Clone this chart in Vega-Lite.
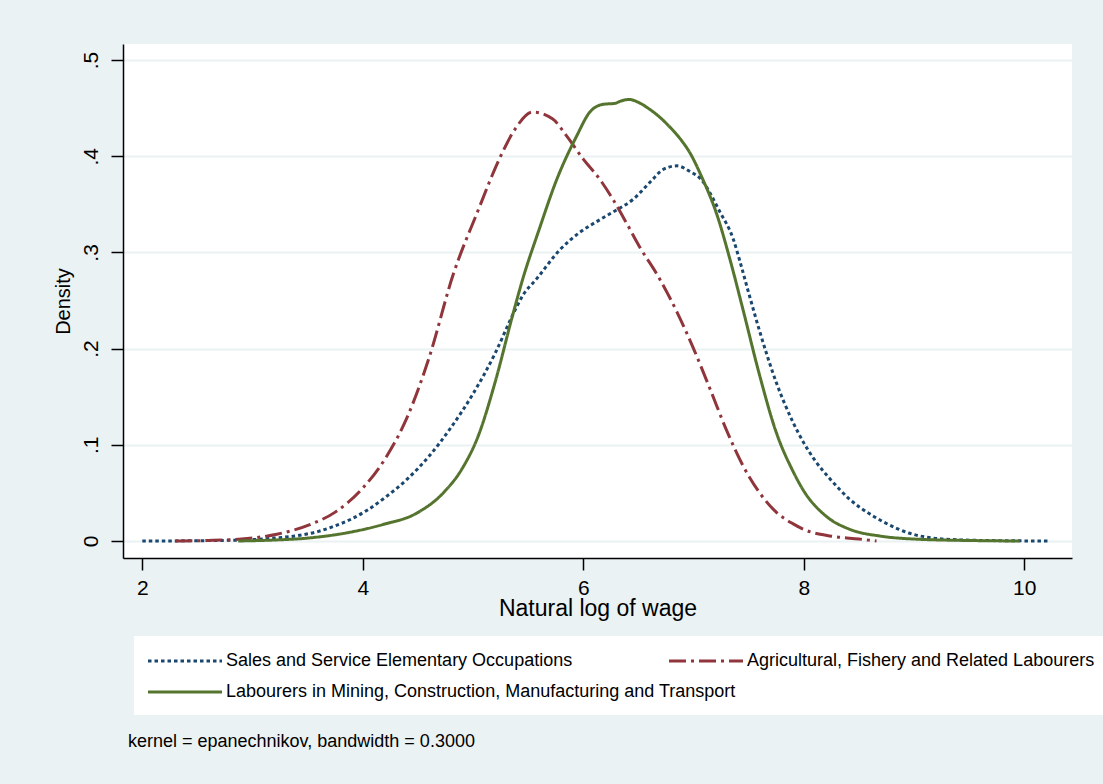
{
  "$schema": "https://vega.github.io/schema/vega-lite/v6.json",
  "width": 949,
  "height": 514,
  "autosize": {"type": "none"},
  "padding": {"left": 123, "top": 44, "right": 31, "bottom": 226},
  "background": "#EAF2F3",
  "title": {
    "text": "kernel = epanechnikov, bandwidth = 0.3000",
    "orient": "bottom",
    "anchor": "start",
    "frame": "group",
    "dx": 5,
    "offset": 18,
    "font": "Liberation Sans",
    "fontSize": 18,
    "fontWeight": "normal",
    "color": "#000000"
  },
  "config": {
    "view": {"fill": "#FFFFFF", "stroke": null},
    "font": "Liberation Sans"
  },
  "data": {
    "values": [
      {"occupation": "Sales and Service Elementary Occupations", "logwage": 2.0, "density": 0},
      {"occupation": "Sales and Service Elementary Occupations", "logwage": 2.3, "density": 0.0001},
      {"occupation": "Sales and Service Elementary Occupations", "logwage": 2.6, "density": 0.0004},
      {"occupation": "Sales and Service Elementary Occupations", "logwage": 2.9, "density": 0.001},
      {"occupation": "Sales and Service Elementary Occupations", "logwage": 3.2, "density": 0.003},
      {"occupation": "Sales and Service Elementary Occupations", "logwage": 3.43, "density": 0.006},
      {"occupation": "Sales and Service Elementary Occupations", "logwage": 3.6, "density": 0.01},
      {"occupation": "Sales and Service Elementary Occupations", "logwage": 3.73, "density": 0.015},
      {"occupation": "Sales and Service Elementary Occupations", "logwage": 3.9, "density": 0.023},
      {"occupation": "Sales and Service Elementary Occupations", "logwage": 4.04, "density": 0.032},
      {"occupation": "Sales and Service Elementary Occupations", "logwage": 4.2, "density": 0.045},
      {"occupation": "Sales and Service Elementary Occupations", "logwage": 4.4, "density": 0.064},
      {"occupation": "Sales and Service Elementary Occupations", "logwage": 4.6, "density": 0.088},
      {"occupation": "Sales and Service Elementary Occupations", "logwage": 4.8, "density": 0.118},
      {"occupation": "Sales and Service Elementary Occupations", "logwage": 5.0, "density": 0.153},
      {"occupation": "Sales and Service Elementary Occupations", "logwage": 5.2, "density": 0.195},
      {"occupation": "Sales and Service Elementary Occupations", "logwage": 5.36, "density": 0.235},
      {"occupation": "Sales and Service Elementary Occupations", "logwage": 5.45, "density": 0.255},
      {"occupation": "Sales and Service Elementary Occupations", "logwage": 5.58, "density": 0.273},
      {"occupation": "Sales and Service Elementary Occupations", "logwage": 5.79, "density": 0.303},
      {"occupation": "Sales and Service Elementary Occupations", "logwage": 5.97, "density": 0.321},
      {"occupation": "Sales and Service Elementary Occupations", "logwage": 6.15, "density": 0.334},
      {"occupation": "Sales and Service Elementary Occupations", "logwage": 6.27, "density": 0.342},
      {"occupation": "Sales and Service Elementary Occupations", "logwage": 6.45, "density": 0.355},
      {"occupation": "Sales and Service Elementary Occupations", "logwage": 6.63, "density": 0.376},
      {"occupation": "Sales and Service Elementary Occupations", "logwage": 6.72, "density": 0.386},
      {"occupation": "Sales and Service Elementary Occupations", "logwage": 6.85, "density": 0.39},
      {"occupation": "Sales and Service Elementary Occupations", "logwage": 6.97, "density": 0.384},
      {"occupation": "Sales and Service Elementary Occupations", "logwage": 7.06, "density": 0.377},
      {"occupation": "Sales and Service Elementary Occupations", "logwage": 7.24, "density": 0.342},
      {"occupation": "Sales and Service Elementary Occupations", "logwage": 7.36, "density": 0.314},
      {"occupation": "Sales and Service Elementary Occupations", "logwage": 7.43, "density": 0.287},
      {"occupation": "Sales and Service Elementary Occupations", "logwage": 7.5, "density": 0.258},
      {"occupation": "Sales and Service Elementary Occupations", "logwage": 7.6, "density": 0.218},
      {"occupation": "Sales and Service Elementary Occupations", "logwage": 7.75, "density": 0.165},
      {"occupation": "Sales and Service Elementary Occupations", "logwage": 7.9, "density": 0.124},
      {"occupation": "Sales and Service Elementary Occupations", "logwage": 8.0, "density": 0.102},
      {"occupation": "Sales and Service Elementary Occupations", "logwage": 8.1, "density": 0.084},
      {"occupation": "Sales and Service Elementary Occupations", "logwage": 8.25, "density": 0.063},
      {"occupation": "Sales and Service Elementary Occupations", "logwage": 8.42, "density": 0.043},
      {"occupation": "Sales and Service Elementary Occupations", "logwage": 8.6, "density": 0.028},
      {"occupation": "Sales and Service Elementary Occupations", "logwage": 8.72, "density": 0.02},
      {"occupation": "Sales and Service Elementary Occupations", "logwage": 8.96, "density": 0.008},
      {"occupation": "Sales and Service Elementary Occupations", "logwage": 9.17, "density": 0.003},
      {"occupation": "Sales and Service Elementary Occupations", "logwage": 9.4, "density": 0.0012},
      {"occupation": "Sales and Service Elementary Occupations", "logwage": 9.7, "density": 0.0004},
      {"occupation": "Sales and Service Elementary Occupations", "logwage": 10.0, "density": 0.0001},
      {"occupation": "Sales and Service Elementary Occupations", "logwage": 10.23, "density": 0},

      {"occupation": "Agricultural, Fishery and Related Labourers", "logwage": 2.3, "density": 0},
      {"occupation": "Agricultural, Fishery and Related Labourers", "logwage": 2.6, "density": 0.0005},
      {"occupation": "Agricultural, Fishery and Related Labourers", "logwage": 2.9, "density": 0.002},
      {"occupation": "Agricultural, Fishery and Related Labourers", "logwage": 3.22, "density": 0.007},
      {"occupation": "Agricultural, Fishery and Related Labourers", "logwage": 3.52, "density": 0.017},
      {"occupation": "Agricultural, Fishery and Related Labourers", "logwage": 3.75, "density": 0.03},
      {"occupation": "Agricultural, Fishery and Related Labourers", "logwage": 4.0, "density": 0.055},
      {"occupation": "Agricultural, Fishery and Related Labourers", "logwage": 4.2, "density": 0.085},
      {"occupation": "Agricultural, Fishery and Related Labourers", "logwage": 4.4, "density": 0.128},
      {"occupation": "Agricultural, Fishery and Related Labourers", "logwage": 4.6, "density": 0.19},
      {"occupation": "Agricultural, Fishery and Related Labourers", "logwage": 4.82, "density": 0.277},
      {"occupation": "Agricultural, Fishery and Related Labourers", "logwage": 5.04, "density": 0.342},
      {"occupation": "Agricultural, Fishery and Related Labourers", "logwage": 5.25, "density": 0.4},
      {"occupation": "Agricultural, Fishery and Related Labourers", "logwage": 5.38, "density": 0.428},
      {"occupation": "Agricultural, Fishery and Related Labourers", "logwage": 5.54, "density": 0.446},
      {"occupation": "Agricultural, Fishery and Related Labourers", "logwage": 5.72, "density": 0.439},
      {"occupation": "Agricultural, Fishery and Related Labourers", "logwage": 5.85, "density": 0.421},
      {"occupation": "Agricultural, Fishery and Related Labourers", "logwage": 6.0, "density": 0.397},
      {"occupation": "Agricultural, Fishery and Related Labourers", "logwage": 6.15, "density": 0.376},
      {"occupation": "Agricultural, Fishery and Related Labourers", "logwage": 6.27, "density": 0.355},
      {"occupation": "Agricultural, Fishery and Related Labourers", "logwage": 6.39, "density": 0.331},
      {"occupation": "Agricultural, Fishery and Related Labourers", "logwage": 6.51, "density": 0.306},
      {"occupation": "Agricultural, Fishery and Related Labourers", "logwage": 6.68, "density": 0.275},
      {"occupation": "Agricultural, Fishery and Related Labourers", "logwage": 6.85, "density": 0.238},
      {"occupation": "Agricultural, Fishery and Related Labourers", "logwage": 7.0, "density": 0.2},
      {"occupation": "Agricultural, Fishery and Related Labourers", "logwage": 7.15, "density": 0.158},
      {"occupation": "Agricultural, Fishery and Related Labourers", "logwage": 7.3, "density": 0.115},
      {"occupation": "Agricultural, Fishery and Related Labourers", "logwage": 7.45, "density": 0.078},
      {"occupation": "Agricultural, Fishery and Related Labourers", "logwage": 7.6, "density": 0.05},
      {"occupation": "Agricultural, Fishery and Related Labourers", "logwage": 7.75, "density": 0.03},
      {"occupation": "Agricultural, Fishery and Related Labourers", "logwage": 7.9, "density": 0.018},
      {"occupation": "Agricultural, Fishery and Related Labourers", "logwage": 8.0, "density": 0.012},
      {"occupation": "Agricultural, Fishery and Related Labourers", "logwage": 8.25, "density": 0.005},
      {"occupation": "Agricultural, Fishery and Related Labourers", "logwage": 8.5, "density": 0.002},
      {"occupation": "Agricultural, Fishery and Related Labourers", "logwage": 8.66, "density": 0},

      {"occupation": "Labourers in Mining, Construction, Manufacturing and Transport", "logwage": 2.87, "density": 0},
      {"occupation": "Labourers in Mining, Construction, Manufacturing and Transport", "logwage": 3.2, "density": 0.001},
      {"occupation": "Labourers in Mining, Construction, Manufacturing and Transport", "logwage": 3.5, "density": 0.003},
      {"occupation": "Labourers in Mining, Construction, Manufacturing and Transport", "logwage": 3.88, "density": 0.009},
      {"occupation": "Labourers in Mining, Construction, Manufacturing and Transport", "logwage": 4.18, "density": 0.017},
      {"occupation": "Labourers in Mining, Construction, Manufacturing and Transport", "logwage": 4.49, "density": 0.029},
      {"occupation": "Labourers in Mining, Construction, Manufacturing and Transport", "logwage": 4.73, "density": 0.05},
      {"occupation": "Labourers in Mining, Construction, Manufacturing and Transport", "logwage": 4.9, "density": 0.075},
      {"occupation": "Labourers in Mining, Construction, Manufacturing and Transport", "logwage": 5.05, "density": 0.11},
      {"occupation": "Labourers in Mining, Construction, Manufacturing and Transport", "logwage": 5.2, "density": 0.165},
      {"occupation": "Labourers in Mining, Construction, Manufacturing and Transport", "logwage": 5.36, "density": 0.235},
      {"occupation": "Labourers in Mining, Construction, Manufacturing and Transport", "logwage": 5.45, "density": 0.272},
      {"occupation": "Labourers in Mining, Construction, Manufacturing and Transport", "logwage": 5.6, "density": 0.324},
      {"occupation": "Labourers in Mining, Construction, Manufacturing and Transport", "logwage": 5.76, "density": 0.376},
      {"occupation": "Labourers in Mining, Construction, Manufacturing and Transport", "logwage": 5.94, "density": 0.421},
      {"occupation": "Labourers in Mining, Construction, Manufacturing and Transport", "logwage": 6.06, "density": 0.446},
      {"occupation": "Labourers in Mining, Construction, Manufacturing and Transport", "logwage": 6.18, "density": 0.454},
      {"occupation": "Labourers in Mining, Construction, Manufacturing and Transport", "logwage": 6.29, "density": 0.455},
      {"occupation": "Labourers in Mining, Construction, Manufacturing and Transport", "logwage": 6.33, "density": 0.457},
      {"occupation": "Labourers in Mining, Construction, Manufacturing and Transport", "logwage": 6.42, "density": 0.459},
      {"occupation": "Labourers in Mining, Construction, Manufacturing and Transport", "logwage": 6.5, "density": 0.456},
      {"occupation": "Labourers in Mining, Construction, Manufacturing and Transport", "logwage": 6.6, "density": 0.449},
      {"occupation": "Labourers in Mining, Construction, Manufacturing and Transport", "logwage": 6.69, "density": 0.441},
      {"occupation": "Labourers in Mining, Construction, Manufacturing and Transport", "logwage": 6.78, "density": 0.431},
      {"occupation": "Labourers in Mining, Construction, Manufacturing and Transport", "logwage": 6.88, "density": 0.418},
      {"occupation": "Labourers in Mining, Construction, Manufacturing and Transport", "logwage": 6.97, "density": 0.403},
      {"occupation": "Labourers in Mining, Construction, Manufacturing and Transport", "logwage": 7.08, "density": 0.377},
      {"occupation": "Labourers in Mining, Construction, Manufacturing and Transport", "logwage": 7.21, "density": 0.34},
      {"occupation": "Labourers in Mining, Construction, Manufacturing and Transport", "logwage": 7.33, "density": 0.293},
      {"occupation": "Labourers in Mining, Construction, Manufacturing and Transport", "logwage": 7.45, "density": 0.24},
      {"occupation": "Labourers in Mining, Construction, Manufacturing and Transport", "logwage": 7.6, "density": 0.172},
      {"occupation": "Labourers in Mining, Construction, Manufacturing and Transport", "logwage": 7.75, "density": 0.113},
      {"occupation": "Labourers in Mining, Construction, Manufacturing and Transport", "logwage": 7.9, "density": 0.073},
      {"occupation": "Labourers in Mining, Construction, Manufacturing and Transport", "logwage": 8.0, "density": 0.052},
      {"occupation": "Labourers in Mining, Construction, Manufacturing and Transport", "logwage": 8.2, "density": 0.026},
      {"occupation": "Labourers in Mining, Construction, Manufacturing and Transport", "logwage": 8.42, "density": 0.012},
      {"occupation": "Labourers in Mining, Construction, Manufacturing and Transport", "logwage": 8.7, "density": 0.005},
      {"occupation": "Labourers in Mining, Construction, Manufacturing and Transport", "logwage": 9.0, "density": 0.002},
      {"occupation": "Labourers in Mining, Construction, Manufacturing and Transport", "logwage": 9.5, "density": 0.0005},
      {"occupation": "Labourers in Mining, Construction, Manufacturing and Transport", "logwage": 9.96, "density": 0}
    ]
  },
  "mark": {"type": "line", "strokeWidth": 3, "interpolate": "monotone"},
  "encoding": {
    "x": {
      "field": "logwage",
      "type": "quantitative",
      "scale": {"domain": [1.825, 10.433], "nice": false, "zero": false},
      "axis": {
        "title": "Natural log of wage",
        "values": [2, 4, 6, 8, 10],
        "grid": false,
        "domainColor": "#000000",
        "domainWidth": 1.5,
        "tickColor": "#000000",
        "tickWidth": 1.5,
        "tickSize": 12,
        "labelFontSize": 21,
        "labelColor": "#000000",
        "labelPadding": 7,
        "labelFont": "Liberation Sans",
        "titleFont": "Liberation Sans",
        "titleFontSize": 23,
        "titleFontWeight": "normal",
        "titleColor": "#000000",
        "titlePadding": -1
      }
    },
    "y": {
      "field": "density",
      "type": "quantitative",
      "scale": {"domain": [-0.0177, 0.5167], "nice": false, "zero": false},
      "axis": {
        "title": "Density",
        "values": [0, 0.1, 0.2, 0.3, 0.4, 0.5],
        "labelExpr": "datum.value === 0 ? '0' : '.' + round(datum.value * 10)",
        "grid": true,
        "gridColor": "#EAF2F3",
        "gridWidth": 2,
        "domainColor": "#000000",
        "domainWidth": 1.5,
        "tickColor": "#000000",
        "tickWidth": 1.5,
        "tickSize": 12,
        "labelFontSize": 21,
        "labelColor": "#000000",
        "labelAngle": -90,
        "labelAlign": "center",
        "labelBaseline": "bottom",
        "labelPadding": 10,
        "labelFont": "Liberation Sans",
        "titleFont": "Liberation Sans",
        "titleFontSize": 20,
        "titleFontWeight": "normal",
        "titleColor": "#000000",
        "titlePadding": 7
      }
    },
    "color": {
      "field": "occupation",
      "type": "nominal",
      "scale": {
        "domain": [
          "Sales and Service Elementary Occupations",
          "Labourers in Mining, Construction, Manufacturing and Transport",
          "Agricultural, Fishery and Related Labourers"
        ],
        "range": ["#1A476F", "#55752F", "#90353B"]
      },
      "legend": {
        "title": null,
        "orient": "none",
        "legendX": 11,
        "legendY": 592,
        "columns": 2,
        "gridAlign": "none",
        "columnPadding": -73,
        "rowPadding": 11,
        "padding": 14,
        "fillColor": "#FFFFFF",
        "symbolType": "M-4,0H4",
        "symbolSize": 342,
        "symbolStrokeWidth": 3,
        "symbolOffset": 26,
        "labelOffset": 30,
        "labelFontSize": 18,
        "labelFont": "Liberation Sans",
        "labelColor": "#000000",
        "labelLimit": 0
      }
    },
    "strokeDash": {
      "field": "occupation",
      "type": "nominal",
      "scale": {
        "domain": [
          "Sales and Service Elementary Occupations",
          "Labourers in Mining, Construction, Manufacturing and Transport",
          "Agricultural, Fishery and Related Labourers"
        ],
        "range": [[3.5, 3], [1, 0], [17, 5, 3, 5]]
      },
      "legend": null
    }
  }
}
